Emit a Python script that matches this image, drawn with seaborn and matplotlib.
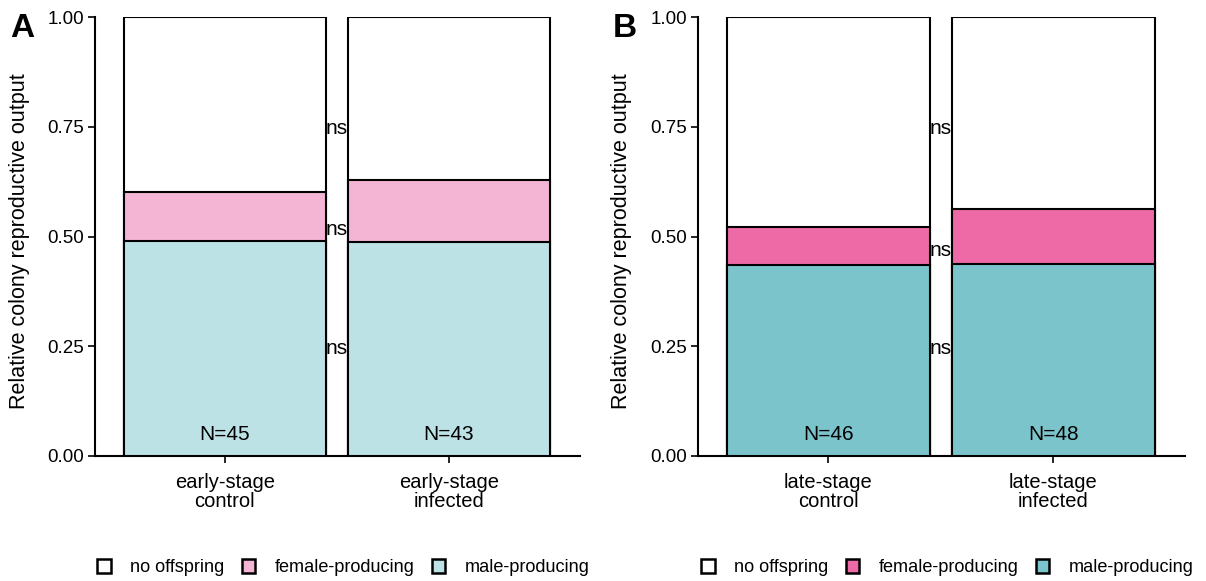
import matplotlib
matplotlib.use("Agg")
import matplotlib.pyplot as plt
from matplotlib.patches import Patch
import seaborn as sns
import pandas as pd

# Proportions of colonies in each output class (stacked: male at bottom)
groups_a = ["early-stage\ncontrol", "early-stage\ninfected"]
male_a = [0.490, 0.488]
female_a = [0.111, 0.141]
n_a = ["N=45", "N=43"]

groups_b = ["late-stage\ncontrol", "late-stage\ninfected"]
male_b = [0.435, 0.437]
female_b = [0.087, 0.126]
n_b = ["N=46", "N=48"]

# significance labels and heights
sig_labels = ["ns", "ns", "ns"]
sig_y_a = [0.747, 0.515, 0.246]
sig_y_b = [0.747, 0.467, 0.246]

legend_labels = ["no offspring", "female-producing", "male-producing"]
colors_a = ["#FFFFFF", "#F4B4D4", "#BDE2E6"]
colors_b = ["#FFFFFF", "#EE6AA6", "#7BC4CC"]

sns.set_theme(style="ticks")
plt.rcParams["font.family"] = ["Liberation Sans", "DejaVu Sans"]
plt.rcParams["text.color"] = "black"
plt.rcParams["axes.labelcolor"] = "black"

fig = plt.figure(figsize=(12.06, 5.81), dpi=100)
W, H = 1206, 581


def add_axes(left, right, top, bottom):
    return fig.add_axes([left / W, 1 - bottom / H, (right - left) / W, (bottom - top) / H])


ax_a = add_axes(95, 580, 17, 456)
ax_b = add_axes(698, 1185, 17, 456)


def draw_panel(ax, groups, male, female, ns, colors, sig_y, letter):
    df = pd.DataFrame({
        "group": groups,
        "total": [1.0, 1.0],
        "female_top": [m + f for m, f in zip(male, female)],
        "male": male,
    })
    for col, c in zip(["total", "female_top", "male"], colors):
        sns.barplot(data=df, x="group", y=col, color=c, width=0.9,
                    edgecolor="black", linewidth=1.5, saturation=1,
                    errorbar=None, ax=ax, zorder=3)
    for i, lab in enumerate(ns):
        ax.text(i, 0.048, lab, ha="center", va="center", fontsize=15,
                color="black", zorder=5)
    for lab, y in zip(sig_labels, sig_y):
        ax.text(0.5, y, lab, ha="center", va="center", fontsize=15,
                color="black", zorder=1)
    ax.set_xlim(-0.58, 1.585)
    ax.set_ylim(0, 1)
    ax.set_yticks([0, 0.25, 0.5, 0.75, 1.0])
    ax.set_yticklabels(["0.00", "0.25", "0.50", "0.75", "1.00"])
    ax.set_xlabel("")
    ax.set_ylabel("Relative colony reproductive output", fontsize=15.5,
                  color="black")
    ax.yaxis.set_label_coords(-0.135, 0.49)
    ax.tick_params(axis="y", labelsize=13.5, length=5, width=1.2,
                   colors="black", labelcolor="black", pad=3)
    ax.tick_params(axis="x", labelsize=14.5, length=5, width=1.2,
                   colors="black", labelcolor="black", pad=7)
    for t in ax.get_xticklabels():
        t.set_linespacing(1.05)
    for s in ["top", "right"]:
        ax.spines[s].set_visible(False)
    for s in ["left", "bottom"]:
        ax.spines[s].set_linewidth(1.5)
        ax.spines[s].set_color("black")
    ax.text(-0.175, 1.01, letter, transform=ax.transAxes, fontsize=24,
            fontweight="bold", ha="left", va="top", color="black")
    handles = [Patch(facecolor=c, edgecolor="black", linewidth=1.8, label=l)
               for c, l in zip(colors, legend_labels)]
    ax.legend(handles=handles, loc="center", bbox_to_anchor=(0.512, -0.255),
              ncol=3, frameon=False, fontsize=13.1, handlelength=0.75,
              handleheight=0.75, handletextpad=1.05, columnspacing=0.95,
              labelcolor="black")


draw_panel(ax_a, groups_a, male_a, female_a, n_a, colors_a, sig_y_a, "A")
draw_panel(ax_b, groups_b, male_b, female_b, n_b, colors_b, sig_y_b, "B")

fig.savefig("out.png", dpi=100)
